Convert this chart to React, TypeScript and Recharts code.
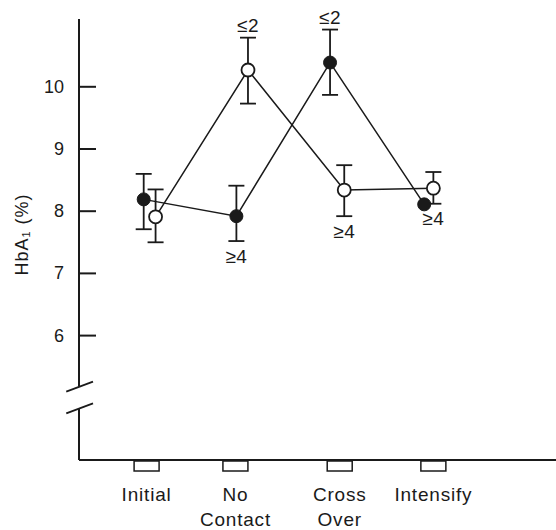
import React from 'react';
import { ComposedChart, Line, Scatter, XAxis, YAxis, ErrorBar, ReferenceLine } from 'recharts';

const categories = [['Initial'], ['No', 'Contact'], ['Cross', 'Over'], ['Intensify']];
const categoryPos = [1.03, 1.95, 3.03, 4.0];

// filled circles
const filledX = [1.0, 1.96, 2.93, 3.905];
const filledMean = [8.19, 7.92, 10.39, 8.11];
const filledLo = [7.71, 7.52, 9.87, null];
const filledHi = [8.6, 8.41, 10.92, null];
const filledNote = ['', '≥4', '≤2', ''];

// open circles
const openX = [1.123, 2.08, 3.077, 4.0];
const openMean = [7.91, 10.27, 8.34, 8.37];
const openLo = [7.5, 9.73, 7.92, 8.12];
const openHi = [8.35, 10.79, 8.74, 8.63];
const openNote = ['', '≤2', '≥4', '≥4'];

const yTicks = [6, 7, 8, 9, 10];
const yDomain = [4, 11.09];
const xDomain = [0.33, 5.27];

const build = (xs: number[], mean: number[], lo: (number | null)[], hi: (number | null)[]) =>
  xs.map((x, i) => ({
    x,
    v: mean[i],
    err: lo[i] == null || hi[i] == null ? null : [mean[i] - (lo[i] as number), (hi[i] as number) - mean[i]],
  }));

const filledData = build(filledX, filledMean, filledLo, filledHi);
const openData = build(openX, openMean, openLo, openHi);

const notes: { x: number; y: number; text: string; up: boolean }[] = [];
const addNotes = (xs: number[], mean: number[], lo: (number | null)[], hi: (number | null)[], txt: string[]) => {
  txt.forEach((t, i) => {
    if (!t) return;
    const up = t.startsWith('≤');
    const y = up ? hi[i] ?? mean[i] : lo[i] ?? mean[i];
    notes.push({ x: xs[i], y, text: t, up });
  });
};
addNotes(filledX, filledMean, filledLo, filledHi, filledNote);
addNotes(openX, openMean, openLo, openHi, openNote);

const FONT = '"Liberation Sans", Arial, sans-serif';
const INK = '#1a1a1a';

const YTick = (props: any) => {
  const { x, y, payload } = props;
  return (
    <g>
      <line x1={x} y1={y} x2={x + 17} y2={y} stroke={INK} strokeWidth={2} />
      <text x={x - 15} y={y} textAnchor="end" dominantBaseline="central" fontSize={18} fontFamily={FONT} fill={INK}>
        {payload.value}
      </text>
    </g>
  );
};

const XTick = (props: any) => {
  const { x, y, payload } = props;
  const idx = categoryPos.indexOf(payload.value);
  const lines = categories[idx] || [];
  return (
    <g>
      <rect x={x - 12.5} y={y + 1} width={25} height={10} fill="#fff" stroke={INK} strokeWidth={1.5} />
      {lines.map((l, i) => (
        <text key={i} x={x} y={y + 41 + i * 25} textAnchor="middle" fontSize={19} letterSpacing={0.8} fontFamily={FONT} fill={INK}>
          {l}
        </text>
      ))}
    </g>
  );
};

const FilledDot = (props: any) => <circle cx={props.cx} cy={props.cy} r={6.5} fill={INK} stroke={INK} strokeWidth={1} />;
const OpenDot = (props: any) => <circle cx={props.cx} cy={props.cy} r={6.5} fill="#fff" stroke={INK} strokeWidth={1.8} />;

const NoteShape = (props: any) => {
  const { cx, cy, payload } = props;
  return (
    <text
      x={cx}
      y={cy + (payload.up ? -12.5 : 15)}
      textAnchor="middle"
      dominantBaseline="central"
      fontSize={19}
      letterSpacing={0.5}
      fontFamily={FONT}
      fill={INK}
    >
      {payload.text}
    </text>
  );
};

const YLabel = (props: any) => {
  const vb = props.viewBox || { x: 39, y: 19, height: 441 };
  const cx = vb.x - 17;
  const cy = vb.y + vb.height / 2 - 5;
  return (
    <text transform={`translate(${cx},${cy}) rotate(-90)`} textAnchor="middle" dominantBaseline="central" fontSize={18} fontFamily={FONT} fill={INK} letterSpacing={1}>
      HbA<tspan fontSize={11} dy={4}>1</tspan>
      <tspan dy={-4}> (%)</tspan>
    </text>
  );
};

const axisX = xDomain[0];

const App = () => {
  return (
    <div style={{ position: 'absolute', left: 0, top: 0, background: '#fff' }}>
      <ComposedChart width={556} height={530} margin={{ top: 19, right: 0, bottom: 10, left: 39 }}>
        <XAxis
          type="number"
          dataKey="x"
          domain={xDomain}
          ticks={categoryPos}
          tick={<XTick />}
          tickLine={false}
          tickSize={0}
          tickMargin={0}
          height={60}
          axisLine={{ stroke: INK, strokeWidth: 2 }}
        />
        <YAxis
          type="number"
          domain={yDomain}
          ticks={yTicks}
          tick={<YTick />}
          tickLine={false}
          tickSize={0}
          tickMargin={0}
          width={40}
          axisLine={false}
          label={<YLabel />}
        />
        {/* broken y axis */}
        <ReferenceLine segment={[{ x: axisX, y: 11.09 }, { x: axisX, y: 5.18 }]} stroke={INK} strokeWidth={2} ifOverflow="visible" />
        <ReferenceLine segment={[{ x: axisX, y: 4.82 }, { x: axisX, y: 4 }]} stroke={INK} strokeWidth={2} ifOverflow="visible" />
        <ReferenceLine segment={[{ x: 0.198, y: 5.1 }, { x: 0.475, y: 5.26 }]} stroke={INK} strokeWidth={1.8} ifOverflow="visible" />
        <ReferenceLine segment={[{ x: 0.198, y: 4.75 }, { x: 0.475, y: 4.91 }]} stroke={INK} strokeWidth={1.8} ifOverflow="visible" />
        <Line
          data={filledData}
          dataKey="v"
          type="linear"
          stroke={INK}
          strokeWidth={1.5}
          dot={<FilledDot />}
          activeDot={false}
          isAnimationActive={false}
        >
          <ErrorBar dataKey="err" width={8} stroke={INK} strokeWidth={1.8} direction="y" />
        </Line>
        <Line
          data={openData}
          dataKey="v"
          type="linear"
          stroke={INK}
          strokeWidth={1.5}
          dot={<OpenDot />}
          activeDot={false}
          isAnimationActive={false}
        >
          <ErrorBar dataKey="err" width={8} stroke={INK} strokeWidth={1.8} direction="y" />
        </Line>
        <Scatter data={notes} dataKey="y" shape={<NoteShape />} isAnimationActive={false} />
      </ComposedChart>
    </div>
  );
};

export default App;
